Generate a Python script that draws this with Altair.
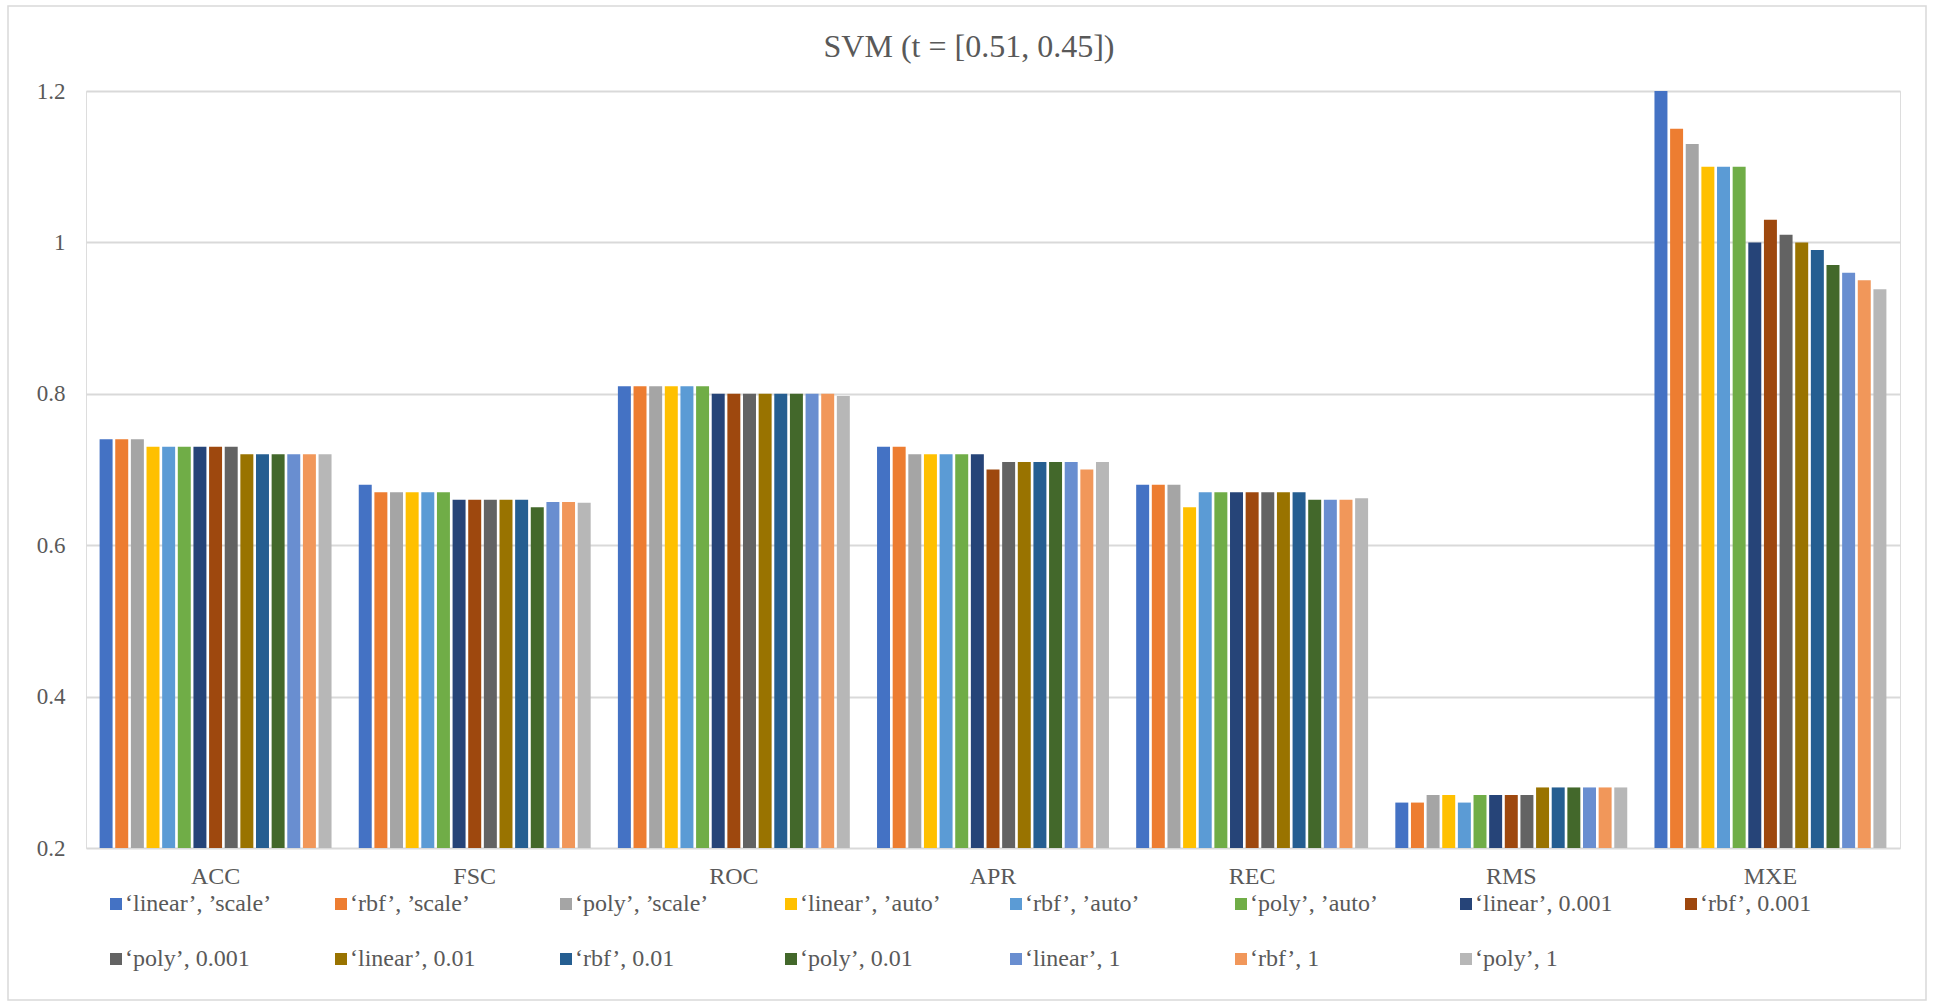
import altair as alt
import pandas as pd

# Metrics on the x axis
metrics = ["ACC", "FSC", "ROC", "APR", "REC", "RMS", "MXE"]

# SVM configurations (kernel, gamma)
configs = [
    "‘linear’, ’scale’", "‘rbf’, ’scale’", "‘poly’, ’scale’",
    "‘linear’, ’auto’", "‘rbf’, ’auto’", "‘poly’, ’auto’",
    "‘linear’, 0.001", "‘rbf’, 0.001", "‘poly’, 0.001",
    "‘linear’, 0.01", "‘rbf’, 0.01", "‘poly’, 0.01",
    "‘linear’, 1", "‘rbf’, 1", "‘poly’, 1",
]

colors = [
    "#4472C4", "#ED7D31", "#A5A5A5", "#FFC000", "#5B9BD5", "#70AD47",
    "#264478", "#9E480E", "#636363", "#997300", "#255E91", "#43682B",
    "#698ED0", "#F1975A", "#B7B7B7",
]

# Scores per metric, one value per configuration (same order as configs)
acc = [0.74, 0.74, 0.74, 0.73, 0.73, 0.73, 0.73, 0.73, 0.73, 0.72, 0.72, 0.72, 0.72, 0.72, 0.72]
fsc = [0.68, 0.67, 0.67, 0.67, 0.67, 0.67, 0.66, 0.66, 0.66, 0.66, 0.66, 0.65, 0.657, 0.657, 0.656]
roc = [0.81, 0.81, 0.81, 0.81, 0.81, 0.81, 0.80, 0.80, 0.80, 0.80, 0.80, 0.80, 0.80, 0.80, 0.797]
apr = [0.73, 0.73, 0.72, 0.72, 0.72, 0.72, 0.72, 0.70, 0.71, 0.71, 0.71, 0.71, 0.71, 0.70, 0.71]
rec = [0.68, 0.68, 0.68, 0.65, 0.67, 0.67, 0.67, 0.67, 0.67, 0.67, 0.67, 0.66, 0.66, 0.66, 0.662]
rms = [0.26, 0.26, 0.27, 0.27, 0.26, 0.27, 0.27, 0.27, 0.27, 0.28, 0.28, 0.28, 0.28, 0.28, 0.28]
mxe = [1.20, 1.15, 1.13, 1.10, 1.10, 1.10, 1.00, 1.03, 1.01, 1.00, 0.99, 0.97, 0.96, 0.95, 0.938]

y_ticks = [0.2, 0.4, 0.6, 0.8, 1.0, 1.2]
title_text = "SVM (t = [0.51, 0.45])"

scores = dict(zip(metrics, [acc, fsc, roc, apr, rec, rms, mxe]))
rows = []
for m in metrics:
    for c, v in zip(configs, scores[m]):
        rows.append({"metric": m, "config": c, "value": v})
df = pd.DataFrame(rows)

# Legend laid out as a grid of 8 columns, filled left to right
n_cols = 8
legend_df = pd.DataFrame({
    "config": configs,
    "lcol": [i % n_cols for i in range(len(configs))],
    "lrow": [i // n_cols for i in range(len(configs))],
})

FONT = "Liberation Serif"
GRAY = "#595959"

color_enc = alt.Color(
    "config:N", sort=configs,
    scale=alt.Scale(domain=configs, range=colors), legend=None,
)

bars = alt.Chart(df).mark_bar().encode(
    x=alt.X(
        "metric:N",
        sort=metrics,
        scale=alt.Scale(paddingInner=0.105, paddingOuter=0.0525),
        axis=alt.Axis(
            title=None, labelAngle=0, ticks=False, tickSize=0, domain=False,
            labelFont=FONT, labelFontSize=24, labelColor=GRAY, labelPadding=16,
        ),
    ),
    xOffset=alt.XOffset("config:N", sort=configs, scale=alt.Scale(paddingInner=0.17)),
    y=alt.Y(
        "value:Q",
        scale=alt.Scale(domain=[0.2, 1.2], zero=False, nice=False),
        axis=alt.Axis(
            title=None, values=y_ticks, format="~g", ticks=False, tickSize=0,
            domain=False, labelFont=FONT, labelFontSize=23, labelColor=GRAY,
            labelPadding=21, gridColor="#d9d9d9", gridWidth=2,
        ),
    ),
    y2=alt.datum(0.2),
    color=color_enc,
)

# Legend grid below the axis labels
leg_x = alt.X("lcol:Q", scale=alt.Scale(domain=[0, n_cols], range=[30, 30 + 225 * n_cols]), axis=None)
leg_y = alt.Y("lrow:Q", scale=alt.Scale(domain=[0, 1], range=[813, 868]), axis=None)

legend_swatches = alt.Chart(legend_df).mark_point(
    shape="square", filled=True, size=144, opacity=1, strokeWidth=0
).encode(x=leg_x, y=leg_y, color=color_enc)

legend_labels = alt.Chart(legend_df).mark_text(
    align="left", baseline="middle", dx=9, font=FONT, fontSize=24, color=GRAY
).encode(x=leg_x, y=leg_y, text="config:N")

# Light frame around the whole chart
frame = alt.Chart(alt.Data(values=[{}])).mark_rect(
    filled=False, stroke="#d9d9d9", strokeWidth=1.5
).encode(
    x=alt.value(-78), x2=alt.value(1840), y=alt.value(-85), y2=alt.value(909)
)

# Chart title, centred over the frame
title = alt.Chart(alt.Data(values=[{}])).mark_text(
    font=FONT, fontSize=32, color=GRAY, align="center", baseline="middle"
).encode(
    x=alt.value(883), y=alt.value(-44), text=alt.value(title_text)
)

chart = alt.layer(frame, bars, legend_swatches, legend_labels, title).resolve_scale(
    x="independent", y="independent"
).properties(
    width=1814,
    height=757,
    autosize=alt.AutoSizeParams(type="none"),
    padding={"left": 86, "top": 91, "right": 35, "bottom": 155},
).configure_view(strokeWidth=0).configure(background="white")

chart.save("out.html", embed_options={"renderer": "svg", "actions": False})
